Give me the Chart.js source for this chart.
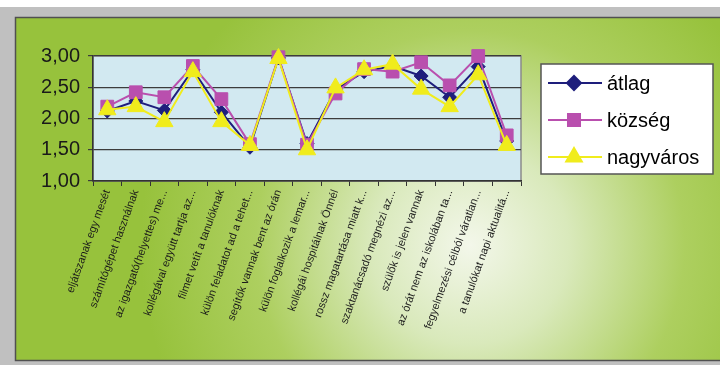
<!DOCTYPE html>
<html>
<head>
<meta charset="utf-8">
<title>átlag / község / nagyváros</title>
<script src="https://cdn.jsdelivr.net/npm/chart.js@4/dist/chart.umd.min.js"></script>
<style>
  html, body { margin: 0; padding: 0; background: #fff; }
  #wrap { width: 720px; height: 365px; position: relative; }
</style>
</head>
<body>
<div id="wrap"><canvas id="grafik" width="720" height="365"></canvas></div>
<script>
// kategóriák (x tengely)
const categories = [
    'eljátszanak egy mesét',
    'számítógépet használnak',
    'az igazgató(helyettes) me...',
    'kollégával együtt tartja az...',
    'filmet vetít a tanulóknak',
    'külön feladatot ad a tehet...',
    'segítők vannak bent az órán',
    'külön foglalkozik a lemar...',
    'kollégái hospitálnak Önnél',
    'rossz magatartása miatt k...',
    'szaktanácsadó megnézi az...',
    'szülők is jelen vannak',
    'az órát nem az iskolában ta...',
    'fegyelmezési célból váratlan...',
    'a tanulókat napi aktualitá...'
];

const atlag     = [2.12, 2.28, 2.13, 2.78, 2.10, 1.54, 2.97, 1.60, 2.46, 2.75, 2.84, 2.68, 2.34, 2.83, 1.64];
const kozseg    = [2.19, 2.42, 2.34, 2.84, 2.31, 1.59, 2.98, 1.58, 2.40, 2.79, 2.75, 2.90, 2.53, 3.00, 1.73];
const nagyvaros = [2.14, 2.19, 1.95, 2.75, 1.95, 1.57, 2.96, 1.50, 2.49, 2.78, 2.87, 2.47, 2.19, 2.70, 1.57];

const yTicks = [1.00, 1.50, 2.00, 2.50, 3.00];

const FONT = '"Liberation Sans", Arial, sans-serif';

// háttér: szürke keret, zöld színátmenet, világoskék rajzterület
const hatter = {
    id: 'hatter',
    beforeDraw(chart) {
        const ctx = chart.ctx;
        const a = chart.chartArea;
        ctx.save();
        ctx.fillStyle = '#ffffff';
        ctx.fillRect(0, 0, 720, 365);
        ctx.fillStyle = '#c0c0c0';
        ctx.fillRect(0, 7, 720, 358);

        const g = ctx.createRadialGradient(470, 245, 0, 470, 245, 330);
        g.addColorStop(0, '#f3f7ea');
        g.addColorStop(0.3, '#d9e9bb');
        g.addColorStop(0.65, '#adcf5f');
        g.addColorStop(1, '#97c23c');
        ctx.fillStyle = g;
        ctx.fillRect(16, 18, 704, 342);

        ctx.strokeStyle = '#505050';
        ctx.lineWidth = 1.5;
        ctx.beginPath();
        ctx.moveTo(720, 17.5);
        ctx.lineTo(15.5, 17.5);
        ctx.lineTo(15.5, 360.5);
        ctx.lineTo(720, 360.5);
        ctx.stroke();

        ctx.fillStyle = '#d2e9f1';
        ctx.fillRect(a.left, a.top, a.right - a.left, a.bottom - a.top);
        ctx.strokeStyle = '#8a8a8a';
        ctx.lineWidth = 1.5;
        ctx.strokeRect(a.left, a.top, a.right - a.left, a.bottom - a.top);
        ctx.restore();
    }
};

// jelmagyarázat keretben, jobbra
const jelmagyarazat = {
    id: 'jelmagyarazat',
    afterDraw(chart) {
        const ctx = chart.ctx;
        ctx.save();
        ctx.fillStyle = '#ffffff';
        ctx.fillRect(541, 64, 172, 110);
        ctx.strokeStyle = '#555555';
        ctx.lineWidth = 1.5;
        ctx.strokeRect(541, 64, 172, 110);

        const sorY = [83, 120, 157];
        chart.data.datasets.forEach((ds, i) => {
            const y = sorY[i];
            ctx.strokeStyle = ds.borderColor;
            ctx.lineWidth = 2;
            ctx.beginPath();
            ctx.moveTo(548, y);
            ctx.lineTo(602, y);
            ctx.stroke();
            ctx.fillStyle = ds.pointBackgroundColor;
            Chart.helpers.drawPoint(ctx, {
                pointStyle: ds.pointStyle,
                radius: ds.legendRadius,
                rotation: 0,
                borderWidth: 1
            }, 574, y);
            ctx.fillStyle = '#000000';
            ctx.font = '20px ' + FONT;
            ctx.textBaseline = 'middle';
            ctx.textAlign = 'left';
            ctx.fillText(ds.label, 607, y + 1);
        });
        ctx.restore();
    }
};

const ctx = document.getElementById('grafik').getContext('2d');
new Chart(ctx, {
    type: 'line',
    data: {
        labels: categories,
        datasets: [{
            label: 'átlag',
            data: atlag,
            borderColor: '#1e1e7c',
            backgroundColor: '#1e1e7c',
            pointBackgroundColor: '#1e1e7c',
            pointBorderColor: '#1e1e7c',
            pointStyle: 'rectRot',
            pointRadius: 7,
            legendRadius: 7,
            order: 3
        }, {
            label: 'község',
            data: kozseg,
            borderColor: '#b94fae',
            backgroundColor: '#b94fae',
            pointBackgroundColor: '#b94fae',
            pointBorderColor: '#b94fae',
            pointStyle: 'rect',
            pointRadius: 9,
            legendRadius: 8.5,
            order: 2
        }, {
            label: 'nagyváros',
            data: nagyvaros,
            borderColor: '#f0ec1c',
            backgroundColor: '#f0ec1c',
            pointBackgroundColor: '#f0ec1c',
            pointBorderColor: '#f0ec1c',
            pointStyle: 'triangle',
            pointRadius: 10,
            legendRadius: 9,
            order: 1
        }]
    },
    options: {
        responsive: false,
        animation: false,
        devicePixelRatio: 1,
        datasets: {
            line: {
                borderWidth: 2,
                pointBorderWidth: 1,
                tension: 0,
                clip: false
            }
        },
        layout: {
            padding: { top: 56, left: 0, right: 199, bottom: 0 }
        },
        plugins: {
            legend: { display: false },
            tooltip: { enabled: false }
        },
        scales: {
            x: {
                offset: true,
                grid: {
                    offset: true,
                    drawOnChartArea: false,
                    color: '#333333',
                    tickLength: 5
                },
                border: { color: '#333333', width: 1.5 },
                ticks: {
                    autoSkip: false,
                    minRotation: 70,
                    maxRotation: 70,
                    padding: 2,
                    color: '#1a1a1a',
                    font: { family: FONT, size: 11 }
                },
                afterFit(scale) { scale.height = 184; }
            },
            y: {
                min: 1,
                max: 3,
                afterBuildTicks(scale) {
                    scale.ticks = yTicks.map(v => ({ value: v }));
                },
                grid: {
                    color: '#3c3c3c',
                    lineWidth: 1.2,
                    tickLength: 5
                },
                border: { color: '#333333', width: 1.5 },
                ticks: {
                    padding: 8,
                    color: '#1a1a1a',
                    font: { family: FONT, size: 20 },
                    callback: v => v.toFixed(2).replace('.', ',')
                },
                afterFit(scale) { scale.width = 93; }
            }
        }
    },
    plugins: [hatter, jelmagyarazat]
});
</script>
</body>
</html>
